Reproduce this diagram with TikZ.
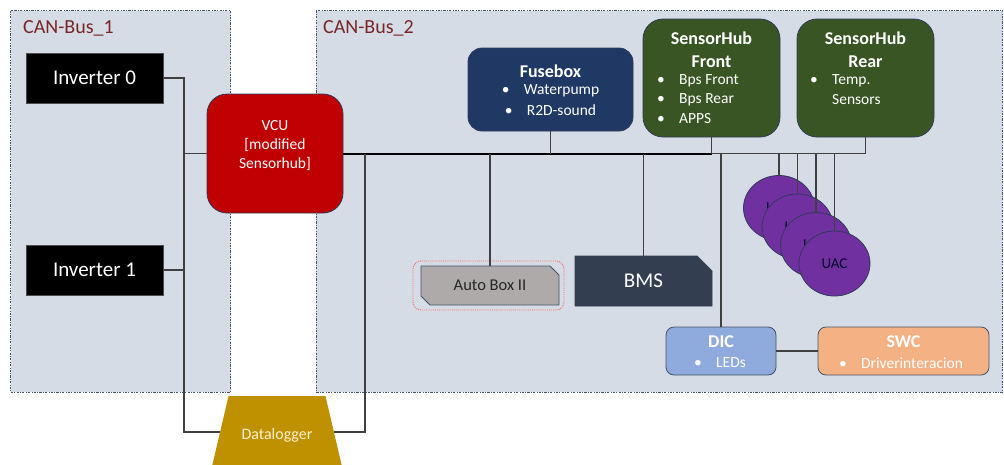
\documentclass[tikz,border=0pt]{standalone}
\usepackage{fontspec}
\setmainfont{Carlito}
\usetikzlibrary{shapes.geometric,shapes.misc}

\definecolor{regfill}{HTML}{D6DCE5}
\definecolor{regline}{HTML}{44546A}
\definecolor{lblred}{RGB}{120,38,38}
\definecolor{boxline}{HTML}{2F3B59}
\definecolor{wirec}{HTML}{404040}
\definecolor{vcured}{HTML}{C00000}
\definecolor{fusenavy}{HTML}{1F3864}
\definecolor{hubgreen}{HTML}{3A5524}
\definecolor{uacpurple}{HTML}{7030A0}
\definecolor{bmsslate}{HTML}{333F50}
\definecolor{abgray}{HTML}{AEAAAA}
\definecolor{dicblue}{HTML}{8FAADC}
\definecolor{swcorange}{HTML}{F4B183}
\definecolor{dlgold}{HTML}{BF9000}
\definecolor{dltext}{HTML}{FFF2CC}

\newcommand\fsz[2]{\fontsize{#1}{#2}\selectfont}
\newcommand\bul{\makebox[22pt][l]{\textbullet}}

\tikzset{
  region/.style={fill=regfill, draw=regline, line width=0.8pt,
    dash pattern=on 2.2pt off 1.4pt on 0.7pt off 1.4pt},
  lbl/.style={text=lblred, font=\fsz{20}{24}, inner sep=0pt, anchor=west},
  box/.style={draw=boxline, line width=0.8pt, inner sep=0pt, outer sep=0pt},
  hub/.style={box, fill=hubgreen, rounded corners=20pt, minimum width=137pt, minimum height=118pt},
  title/.style={text=white, font=\fsz{18}{23}\bfseries, align=center, inner sep=0pt},
  item/.style={text=white, font=\fsz{15.5}{19}, align=left, inner sep=0pt},
  uac/.style={box, ellipse, fill=uacpurple, minimum width=71pt, minimum height=65pt,
    text=black!85!blue, font=\fsz{15}{18}},
  wire/.style={draw=wirec, line width=1.3pt},
  busline/.style={draw=black, line width=2pt},
}

\begin{document}
\begin{tikzpicture}[x=1pt,y=-1pt]
\useasboundingbox (0,0) rectangle (1004,464);
\clip (0,0) rectangle (1004,464);

% bus areas
\path[region] (10.5,10.5) rectangle (230.5,392);
\path[region] (316,10.5) rectangle (1002.5,392);
\node[lbl] (can1) at (23,28) {CAN-Bus\_1};
\node[lbl] (can2) at (323,28) {CAN-Bus\_2};

% CAN-Bus 1 devices
\node[box, fill=black, draw=black!70, minimum width=137pt, minimum height=50pt,
  text=white, font=\fsz{21}{25}] (inv0) at (94.5,78) {Inverter 0};
\node[box, fill=black, draw=black!70, minimum width=137pt, minimum height=50pt,
  text=white, font=\fsz{21}{25}] (inv1) at (94.5,270) {Inverter 1};

% VCU
\node[box, fill=vcured, rounded corners=20pt, minimum width=136pt, minimum height=119pt] (vcu) at (275,153.5) {};
\node[text=white, font=\fsz{15.5}{19}, align=center, inner sep=0pt] (vcuT) at (275,146)
  {VCU\\{[}modified\\Sensorhub]};

% Fusebox
\node[box, fill=fusenavy, rounded corners=14pt, minimum width=165pt, minimum height=83pt] (fuse) at (550.5,89.5) {};
\node[title] (fuseT) at (550.5,71) {Fusebox};
\node[item] (fuse1) at (550.5,91) {\bul Waterpump};
\node[item] (fuse2) at (550.5,110) {\bul R2D-sound};

% SensorHubs
\node[hub] (shf) at (711.5,78) {};
\node[title] (shfT) at (711.5,49.5) {SensorHub\\Front};
\node[item, anchor=west] (shf1) at (657,81) {\bul Bps Front};
\node[item, anchor=west] (shf2) at (657,100) {\bul Bps Rear};
\node[item, anchor=west] (shf3) at (657,119) {\bul APPS};

\node[hub] (shr) at (865.5,78) {};
\node[title] (shrT) at (865.5,49.5) {SensorHub\\Rear};
\node[item, anchor=west] (shr1) at (810,81) {\bul Temp.};
\node[item, anchor=west] (shr2) at (832,100) {Sensors};

% Auto Box II and BMS
\node[draw=red!60, densely dotted, line width=0.9pt, rounded corners=8pt,
  minimum width=151pt, minimum height=49pt] (abo) at (488.5,285.5) {};
\node[box, chamfered rectangle, chamfered rectangle corners={north east,south west},
  chamfered rectangle xsep=4pt, chamfered rectangle ysep=5pt, draw=regline,
  fill=abgray, minimum width=138pt, minimum height=39pt,
  text=black!85, font=\fsz{16.5}{20}] (ab) at (490,285.5) {Auto Box II};
\node[box, chamfered rectangle, chamfered rectangle corners={north east},
  chamfered rectangle xsep=8pt, chamfered rectangle ysep=8pt, draw=bmsslate,
  fill=bmsslate, minimum width=137pt, minimum height=50pt,
  text=white, font=\fsz{21}{25}] (bms) at (643.5,281) {BMS};

% UAC stack
\node[uac] (uac1) at (779,208) {UAC};
\node[uac] (uac2) at (797.5,226.5) {UAC};
\node[uac] (uac3) at (816,245) {UAC};
\node[uac] (uac4) at (834.5,263.5) {UAC};

% DIC and SWC
\node[box, draw=regline, fill=dicblue, rounded corners=8pt, minimum width=110pt, minimum height=48pt] (dic) at (721,351) {};
\node[title] (dicT) at (721,342) {DIC};
\node[item, anchor=west] (dic1) at (694,363) {\bul LEDs};
\node[box, draw=regline, fill=swcorange, rounded corners=8pt, minimum width=171pt, minimum height=48pt] (swc) at (903.5,351) {};
\node[title] (swcT) at (903.5,342) {SWC};
\node[item, anchor=west] (swc1) at (839,363) {\bul Driverinteracion};

% Datalogger (bottom runs off the page)
\node[trapezium, trapezium angle=76.8, fill=dlgold, inner xsep=13pt,
  text height=11pt, text depth=3pt, inner ysep=29pt,
  text=dltext, font=\fsz{16}{19}] (dl) at (277,432) {\raisebox{-3pt}{Datalogger}};

% wiring on CAN-Bus 1
\coordinate (trunk) at (184,0);
\coordinate (dlr) at (365,0);
\coordinate (bus) at (vcu.east);
\draw[wire] (inv0.east) -- (inv0.east -| trunk) -- (trunk |- dl.west) -- (dl.west);
\draw[wire] (inv1.east) -- (inv1.east -| trunk);
\draw[wire] (trunk |- vcu.west) -- (vcu.west);

% wiring on CAN-Bus 2
\draw[busline] (bus) -- (bus -| shf.south);
\draw[wire] (shf.south) -- (shf.south |- bus) -- (shr.south |- bus) -- (shr.south);
\draw[wire] (fuse.south) -- (fuse.south |- bus);
\draw[wire] (dlr |- bus) -- (dlr |- dl.east) -- (dl.east);
\draw[wire] (ab.north |- bus) -- (ab.north);
\draw[wire] (bms.north |- bus) -- (bms.north);
\draw[wire] (dic.north |- bus) -- (dic.north);
\draw[wire] (dic.east) -- (swc.west);
\foreach \u in {uac1,uac2,uac3,uac4}
  \draw[wire] (\u.north |- bus) -- (\u.north);
\end{tikzpicture}
\end{document}
